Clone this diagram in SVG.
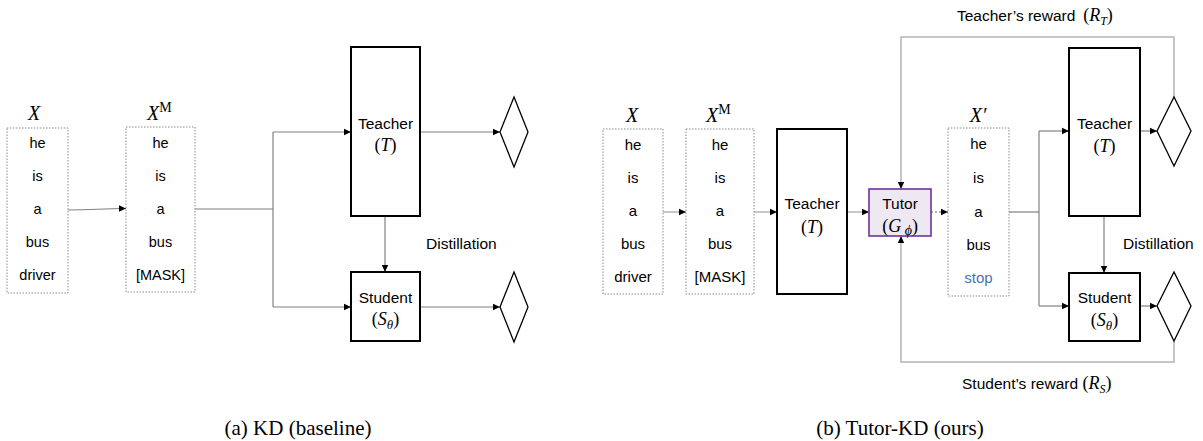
<svg xmlns="http://www.w3.org/2000/svg" width="1203" height="441" viewBox="0 0 1203 441">
  <style>
    .tok { font-family: "Liberation Sans", Arial, sans-serif; font-size: 15px; fill: #000; text-anchor: middle; }
    .tokl { font-family: "Liberation Sans", Arial, sans-serif; font-size: 14.5px; fill: #000; text-anchor: middle; }
    .lbl { font-family: "Liberation Sans", Arial, sans-serif; font-size: 15.5px; fill: #000; text-anchor: middle; }
    .lbls { font-family: "Liberation Sans", Arial, sans-serif; font-size: 15.5px; fill: #000; }
    .math { font-family: "Liberation Serif", "Times New Roman", serif; font-size: 20px; fill: #000; }
    .mathc { font-family: "Liberation Serif", "Times New Roman", serif; font-size: 18px; fill: #000; text-anchor: middle; }
    .it { font-style: italic; }
    .cap { font-family: "Liberation Serif", "Times New Roman", serif; font-size: 21px; fill: #000; text-anchor: middle; }
    .seq { fill: #fff; stroke: #8a8a8a; stroke-width: 1; stroke-dasharray: 1.5 1.5; }
    .model { fill: #fff; stroke: #000; stroke-width: 2; }
    .tutor { fill: #eee8f2; stroke: #7030a0; stroke-width: 1.6; }
    .dia { fill: #fff; stroke: #000; stroke-width: 1.3; }
    .wire { fill: none; stroke: #808080; stroke-width: 1.2; }
    .wire2 { fill: none; stroke: #b4b4b4; stroke-width: 1.5; }
    .dot { fill: none; stroke: #9a9a9a; stroke-width: 1.3; stroke-dasharray: 2 2; }
    .blue { fill: #4472c4; }
  </style>
  <defs>
    <marker id="ah" markerWidth="8" markerHeight="8" refX="7" refY="4" orient="auto" markerUnits="userSpaceOnUse">
      <path d="M0,0.8 L7,4 L0,7.2 Z" fill="#000"/>
    </marker>
  </defs>

  <rect width="1203" height="441" fill="#fff"/>

  <!-- connectors -->
  <g id="connectors">
    <!-- (a) KD baseline -->
    <path class="wire" d="M68,210 C95,210 100,208.5 126,208.5" marker-end="url(#ah)"/>
    <path class="wire" d="M195,209 H273"/>
    <path class="wire" d="M273,132 V307"/>
    <path class="wire" d="M273,132 H351" marker-end="url(#ah)"/>
    <path class="wire" d="M273,307 H351" marker-end="url(#ah)"/>
    <path class="wire" d="M385,216 V272" marker-end="url(#ah)"/>
    <path class="wire" d="M420,132 H500" marker-end="url(#ah)"/>
    <path class="wire" d="M420,307 H500" marker-end="url(#ah)"/>

    <!-- (b) Tutor-KD -->
    <path class="wire2" d="M663,212 H686" marker-end="url(#ah)"/>
    <path class="wire2" d="M754,212 H777" marker-end="url(#ah)"/>
    <path class="wire2" d="M847,212 H869" marker-end="url(#ah)"/>
    <path class="dot" d="M931,212 H948" marker-end="url(#ah)"/>
    <path class="wire" d="M1009,212 H1039"/>
    <path class="wire" d="M1039,131 V306"/>
    <path class="wire" d="M1039,131 H1069" marker-end="url(#ah)"/>
    <path class="wire" d="M1039,306 H1069" marker-end="url(#ah)"/>
    <path class="wire" d="M1104,216 V273" marker-end="url(#ah)"/>
    <path class="wire" d="M1140,131 H1157" marker-end="url(#ah)"/>
    <path class="wire" d="M1140,306 H1157" marker-end="url(#ah)"/>
    <!-- reward feedback loops -->
    <path class="wire2" d="M1174,97 V37 H901 V189" marker-end="url(#ah)"/>
    <path class="wire2" d="M1174,341 V362 H901 V236" marker-end="url(#ah)"/>
  </g>

  <!-- (a) KD baseline -->
  <g id="a-x">
    <text class="math it" x="34" y="120" text-anchor="middle">X</text>
    <rect class="seq" x="7" y="128" width="61" height="165"/>
    <text class="tokl" x="37.5" y="148">he</text>
    <text class="tokl" x="37.5" y="181">is</text>
    <text class="tokl" x="37.5" y="214">a</text>
    <text class="tokl" x="37.5" y="247">bus</text>
    <text class="tokl" x="37.5" y="280">driver</text>
  </g>
  <g id="a-xm">
    <text class="math" x="147" y="120"><tspan class="it">X</tspan><tspan font-size="14" dy="-8">M</tspan></text>
    <rect class="seq" x="126" y="127" width="69" height="165"/>
    <text class="tokl" x="160.5" y="148">he</text>
    <text class="tokl" x="160.5" y="181">is</text>
    <text class="tokl" x="160.5" y="214">a</text>
    <text class="tokl" x="160.5" y="247">bus</text>
    <text class="tokl" x="160.5" y="280">[MASK]</text>
  </g>
  <g id="a-teacher">
    <rect class="model" x="351" y="47" width="69" height="169"/>
    <text class="lbl" x="385.5" y="129">Teacher</text>
    <text class="mathc" x="385.5" y="151">(<tspan class="it">T</tspan>)</text>
  </g>
  <g id="a-student">
    <rect class="model" x="351" y="272" width="69" height="69"/>
    <text class="lbl" x="385.5" y="303">Student</text>
    <text class="mathc" x="385.5" y="325">(<tspan class="it">S</tspan><tspan class="it" font-size="13" dy="4">θ</tspan><tspan dy="-4">)</tspan></text>
  </g>
  <text class="lbls" x="426" y="249">Distillation</text>
  <g id="a-out-t">
    <polygon class="dia" points="500,132 514,97 528,132 514,167"/>
  </g>
  <g id="a-out-s">
    <polygon class="dia" points="500,307 514,272 528,307 514,342"/>
  </g>

  <!-- (b) Tutor-KD -->
  <g id="b-x">
    <text class="math it" x="632" y="122" text-anchor="middle">X</text>
    <rect class="seq" x="603" y="129" width="60" height="165"/>
    <text class="tok" x="633" y="149.5">he</text>
    <text class="tok" x="633" y="182.5">is</text>
    <text class="tok" x="633" y="215.5">a</text>
    <text class="tok" x="633" y="248.5">bus</text>
    <text class="tok" x="633" y="281.5">driver</text>
  </g>
  <g id="b-xm">
    <text class="math" x="706" y="122"><tspan class="it">X</tspan><tspan font-size="14" dy="-8">M</tspan></text>
    <rect class="seq" x="686" y="129" width="68" height="165"/>
    <text class="tok" x="720" y="149.5">he</text>
    <text class="tok" x="720" y="182.5">is</text>
    <text class="tok" x="720" y="215.5">a</text>
    <text class="tok" x="720" y="248.5">bus</text>
    <text class="tok" x="720" y="281.5">[MASK]</text>
  </g>
  <g id="b-teacher-gen">
    <rect class="model" x="777" y="129" width="70" height="165"/>
    <text class="lbl" x="812" y="209">Teacher</text>
    <text class="mathc" x="812" y="233">(<tspan class="it">T</tspan>)</text>
  </g>
  <g id="b-tutor">
    <rect class="tutor" x="869" y="189" width="62" height="47"/>
    <text class="lbl" x="900" y="209">Tutor</text>
    <text class="mathc" x="900" y="232">(<tspan class="it">G</tspan><tspan class="it" font-size="14" dy="3"> ϕ</tspan><tspan dy="-3">)</tspan></text>
  </g>
  <g id="b-xprime">
    <text class="math it" x="978" y="122" text-anchor="middle">X′</text>
    <rect class="seq" x="948" y="128" width="61" height="168"/>
    <text class="tok" x="978.5" y="148.5">he</text>
    <text class="tok" x="978.5" y="182.5">is</text>
    <text class="tok" x="978.5" y="216.5">a</text>
    <text class="tok" x="978.5" y="249.5">bus</text>
    <text class="tok blue" x="978.5" y="282.5">stop</text>
  </g>
  <g id="b-teacher">
    <rect class="model" x="1069" y="48" width="71" height="168"/>
    <text class="lbl" x="1104.5" y="129">Teacher</text>
    <text class="mathc" x="1104.5" y="152">(<tspan class="it">T</tspan>)</text>
  </g>
  <g id="b-student">
    <rect class="model" x="1069" y="273" width="71" height="68"/>
    <text class="lbl" x="1104.5" y="303">Student</text>
    <text class="mathc" x="1104.5" y="326">(<tspan class="it">S</tspan><tspan class="it" font-size="13" dy="4">θ</tspan><tspan dy="-4">)</tspan></text>
  </g>
  <text class="lbls" x="1123" y="249">Distillation</text>
  <g id="b-out-t">
    <polygon class="dia" points="1157,131 1174,97 1191,131 1174,166"/>
  </g>
  <g id="b-out-s">
    <polygon class="dia" points="1157,306 1174,272 1191,306 1174,341"/>
  </g>
  <text class="lbls" x="957" y="21">Teacher’s reward</text>
  <text class="mathc" x="1098" y="21">(<tspan class="it">R</tspan><tspan class="it" font-size="12" dy="4">T</tspan><tspan dy="-4">)</tspan></text>
  <text class="lbls" x="962" y="389">Student’s reward</text>
  <text class="mathc" x="1097" y="389">(<tspan class="it">R</tspan><tspan class="it" font-size="12" dy="4">S</tspan><tspan dy="-4">)</tspan></text>

  <!-- captions -->
  <text class="cap" x="298" y="435">(a) KD (baseline)</text>
  <text class="cap" x="900" y="435">(b) Tutor-KD (ours)</text>
</svg>
